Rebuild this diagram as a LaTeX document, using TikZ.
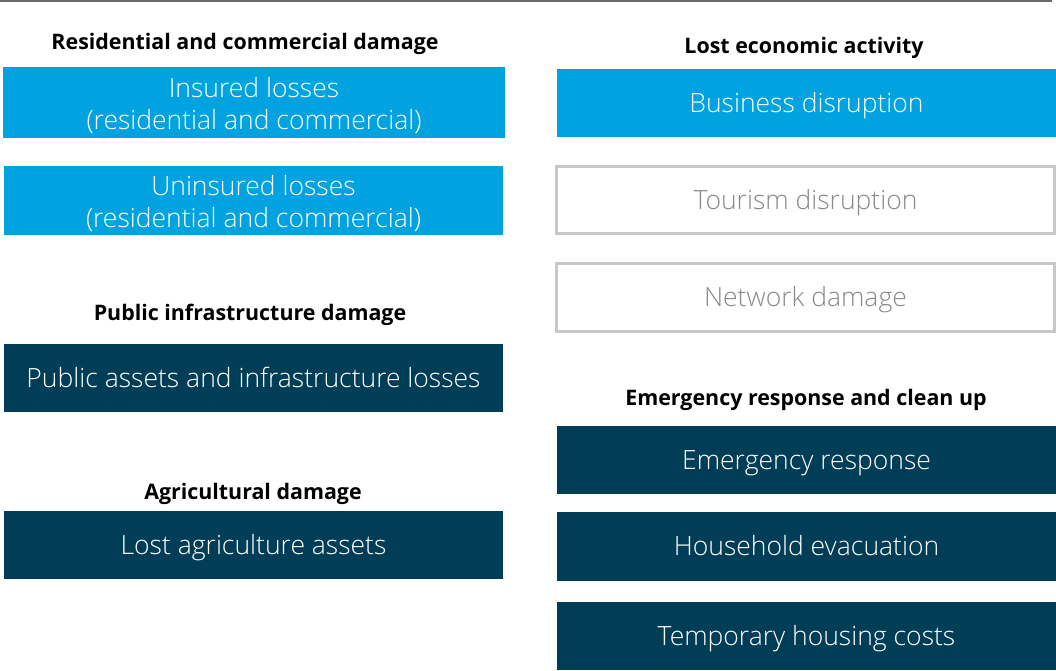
\documentclass[tikz,border=0pt]{standalone}
\usepackage{fontspec}
\setmainfont{Open Sans}
\newfontfamily\lightfont{Open Sans Light}
\definecolor{lblue}{HTML}{00A3E0}
\definecolor{dblue}{HTML}{003E57}
\definecolor{ogray}{HTML}{C8C8C8}
\definecolor{tgray}{HTML}{8A8A8A}
\definecolor{rulegray}{HTML}{6A6A6A}
\begin{document}
\begin{tikzpicture}[x=1pt,y=-1pt,
  hdr/.style={font=\bfseries\fontsize{21.4}{25}\selectfont, text=black, inner sep=0pt,
    text height=15.3pt, text depth=0pt},
  boxtwo/.style={inner sep=0pt, outer sep=0pt, align=center,
    font=\lightfont\fontsize{26.5}{31.6}\selectfont},
  boxbase/.style={boxtwo, text height=18.9pt, text depth=0pt},
  bluebox/.style={boxbase, fill=lblue, text=white},
  bluetwo/.style={boxtwo, fill=lblue, text=white},
  darkbox/.style={boxbase, fill=dblue, text=white},
  outbox/.style={boxbase, draw=ogray, line width=3pt, text=tgray, fill=white},
]
\useasboundingbox (0,0) rectangle (1056,670);
\fill[white] (0,0) rectangle (1056,670);
\coordinate (rl) at (0,1);
\coordinate (rr) at (1052,1);
\draw[rulegray, line width=2pt] (rl) -- (rr);

% left column
\node[hdr] (h1) at (245,42) {Residential and commercial damage};
\node[bluetwo, minimum width=502pt, minimum height=71pt] (ins) at (254,102.5) {};
\node[bluetwo] (inst) at (254,105.5) {Insured losses\\(residential and commercial)};
\node[bluetwo, minimum width=499pt, minimum height=69pt] (unins) at (253.5,200.5) {};
\node[bluetwo] (uninst) at (253.5,203.5) {Uninsured losses\\(residential and commercial)};
\node[hdr] (h2) at (250,312.5) {Public infrastructure damage};
\node[darkbox, minimum width=499pt, minimum height=68pt] (pub) at (253.5,378)
  {Public assets and infrastructure losses};
\node[hdr] (h3) at (253,492) {Agricultural damage};
\node[darkbox, minimum width=499pt, minimum height=68pt] (agr) at (253.5,545)
  {Lost agriculture assets};

% right column
\node[hdr] (h4) at (804,45.5) {Lost economic activity};
\node[bluebox, minimum width=499pt, minimum height=68pt] (bus) at (806.5,103)
  {Business disruption};
\node[outbox, minimum width=498pt, minimum height=67pt] (tour) at (805.5,200)
  {Tourism disruption};
\node[outbox, minimum width=498pt, minimum height=68pt] (net) at (805.5,297.5)
  {Network damage};
\node[hdr] (h5) at (806,397.5) {Emergency response and clean up};
\node[darkbox, minimum width=499pt, minimum height=68pt] (em) at (806.5,460)
  {Emergency response};
\node[darkbox, minimum width=499pt, minimum height=69pt] (hh) at (806.5,546.5)
  {Household evacuation};
\node[darkbox, minimum width=499pt, minimum height=68pt] (tmp) at (806.5,636)
  {Temporary housing costs};
\end{tikzpicture}
\end{document}
